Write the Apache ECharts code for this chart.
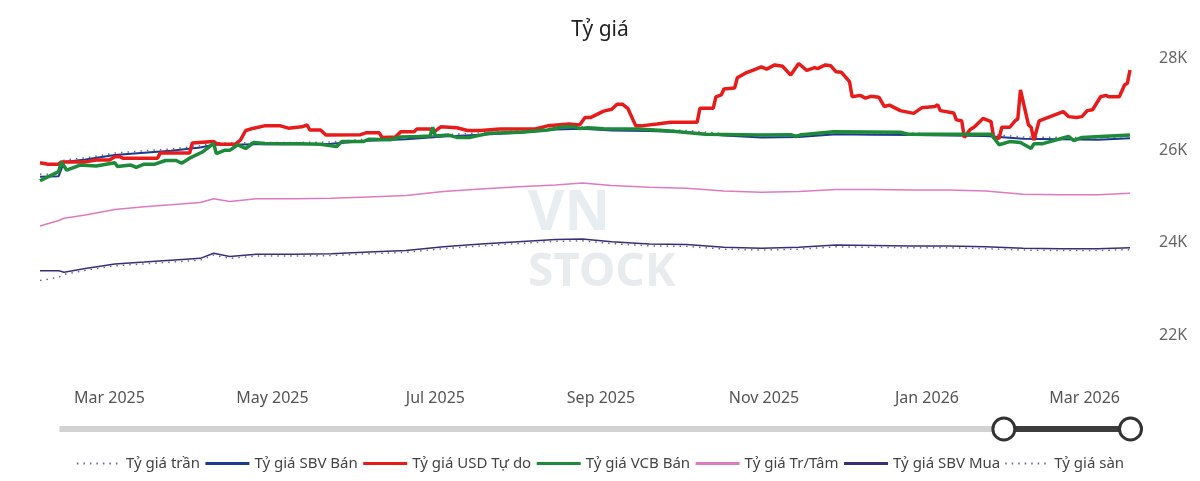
<!DOCTYPE html>
<html>
<head>
<meta charset="utf-8">
<title>Tỷ giá</title>
<script src="https://cdn.jsdelivr.net/npm/echarts@6.0.0/dist/echarts.min.js"></script>
<style>
html, body { margin: 0; padding: 0; background: #fff; }
#main { width: 1200px; height: 481px; }
</style>
</head>
<body>
<div id="main"></div>
<script>
"use strict";
// common dates for SBV / central / ceiling / floor rates
var dates = ['2025-02-03','2025-02-10','2025-02-12','2025-02-20','2025-03-03','2025-03-14','2025-03-24',
	'2025-04-04','2025-04-09','2025-04-15','2025-04-25','2025-05-09','2025-05-23','2025-06-06','2025-06-20',
	'2025-07-04','2025-07-18','2025-08-01','2025-08-15','2025-08-25','2025-09-05','2025-09-19','2025-10-03',
	'2025-10-17','2025-10-31','2025-11-14','2025-11-28','2025-12-12','2025-12-26','2026-01-09','2026-01-23',
	'2026-02-06','2026-02-20','2026-03-06','2026-03-18'];
var ceilingRate = [25480,25490,25790,25840,25940,25990,26030,26100,26160,26160,26170,26170,26180,26250,26280,
	26340,26380,26420,26490,26510,26470,26460,26430,26360,26320,26330,26390,26380,26370,26360,26350,
	26290,26280,26270,26300];
var sbvSell = [25430,25440,25750,25800,25900,25950,25990,26060,26120,26120,26130,26130,26140,26210,26240,
	26300,26340,26380,26450,26470,26430,26420,26390,26320,26280,26290,26350,26340,26330,26320,26310,
	26250,26240,26230,26260];
var centralRate = [24360,24480,24530,24600,24720,24780,24820,24870,24950,24890,24950,24950,24960,24990,25020,
	25110,25160,25210,25250,25290,25240,25200,25180,25120,25090,25110,25150,25150,25140,25140,25120,
	25050,25040,25040,25070];
var sbvBuy = [23390,23390,23360,23440,23540,23580,23620,23660,23770,23700,23750,23750,23760,23800,23830,
	23910,23970,24020,24070,24080,24020,23970,23960,23900,23880,23900,23950,23940,23930,23930,23910,
	23880,23870,23870,23890];
var floorRate = [23180,23250,23310,23400,23500,23540,23580,23620,23730,23660,23710,23710,23720,23760,23790,
	23870,23930,23980,24030,24040,23980,23930,23920,23860,23840,23860,23910,23900,23890,23890,23870,
	23840,23830,23830,23850];

// VCB selling rate
var vcbDates = ['2025-02-03','2025-02-10','2025-02-11','2025-02-13','2025-02-18','2025-02-24','2025-03-03','2025-03-04',
	'2025-03-09','2025-03-11','2025-03-14','2025-03-18','2025-03-22','2025-03-26','2025-03-28','2025-03-31',
	'2025-04-05','2025-04-09','2025-04-10','2025-04-13','2025-04-15','2025-04-18','2025-04-21','2025-04-24','2025-04-28',
	'2025-05-11','2025-05-19','2025-05-25','2025-05-27','2025-06-04','2025-06-06','2025-06-14','2025-06-18','2025-06-25',
	'2025-06-29','2025-06-30','2025-07-01','2025-07-06','2025-07-09','2025-07-14','2025-07-18','2025-07-21',
	'2025-08-02','2025-08-12','2025-08-18','2025-08-22','2025-08-24','2025-08-27','2025-09-02','2025-09-15','2025-09-27',
	'2025-10-10','2025-10-31','2025-11-11','2025-11-13','2025-11-15','2025-11-27','2025-12-22','2025-12-25',
	'2026-01-25','2026-01-28','2026-02-01','2026-02-05','2026-02-09','2026-02-10','2026-02-13','2026-02-23',
	'2026-02-25','2026-02-28','2026-03-07','2026-03-18'];
var vcbSell = [25340,25540,25750,25570,25680,25660,25730,25650,
	25680,25630,25700,25700,25780,25780,25720,25830,
	25970,26150,25930,26000,26000,26120,26040,26170,26150,
	26140,26130,26080,26190,26190,26240,26230,26290,26300,
	26310,26500,26310,26330,26280,26280,26330,26370,
	26390,26440,26510,26510,26470,26490,26470,26460,26420,
	26350,26330,26340,26300,26340,26400,26390,26350,
	26350,26120,26190,26170,26040,26140,26140,26300,
	26210,26280,26300,26330];

// free market USD
var freeDates = ['2025-02-03','2025-02-06','2025-02-10','2025-02-11','2025-02-16','2025-02-20','2025-02-24',
	'2025-03-01','2025-03-03','2025-03-05','2025-03-06','2025-03-19','2025-03-20','2025-03-31',
	'2025-04-01','2025-04-09','2025-04-10','2025-04-12','2025-04-17','2025-04-19','2025-04-21','2025-04-24','2025-04-28',
	'2025-05-04','2025-05-07','2025-05-12','2025-05-14','2025-05-15','2025-05-19','2025-05-21',
	'2025-06-03','2025-06-05','2025-06-10','2025-06-11','2025-06-16','2025-06-18','2025-06-23','2025-06-24','2025-06-29','2025-06-30',
	'2025-07-03','2025-07-09','2025-07-13','2025-07-18','2025-07-25',
	'2025-08-07','2025-08-12','2025-08-20','2025-08-24','2025-08-26','2025-08-28',
	'2025-09-02','2025-09-05','2025-09-07','2025-09-09','2025-09-11','2025-09-14','2025-09-16','2025-09-22','2025-09-27',
	'2025-10-07','2025-10-08','2025-10-13','2025-10-14','2025-10-16','2025-10-17','2025-10-21','2025-10-22','2025-10-25','2025-10-28','2025-10-31',
	'2025-11-02','2025-11-05','2025-11-08','2025-11-11','2025-11-14','2025-11-17','2025-11-20','2025-11-21','2025-11-24','2025-11-26','2025-11-28','2025-11-30',
	'2025-12-03','2025-12-04','2025-12-07','2025-12-09','2025-12-11','2025-12-14','2025-12-16','2025-12-18','2025-12-22','2025-12-27','2025-12-30',
	'2026-01-04','2026-01-05','2026-01-06','2026-01-11','2026-01-12','2026-01-14','2026-01-15','2026-01-17','2026-01-19','2026-01-22','2026-01-25','2026-01-26','2026-01-28','2026-01-29',
	'2026-02-01','2026-02-03','2026-02-04','2026-02-05','2026-02-08','2026-02-09','2026-02-10','2026-02-12','2026-02-21','2026-02-23','2026-02-26','2026-02-28',
	'2026-03-02','2026-03-04','2026-03-07','2026-03-09','2026-03-10','2026-03-14','2026-03-16','2026-03-17','2026-03-18'];
var freeRate = [25730,25700,25700,25750,25750,25750,25790,
	25790,25860,25860,25830,25830,25940,25940,
	26160,26190,26150,26130,26130,26220,26430,26480,26530,
	26530,26480,26510,26550,26440,26440,26330,
	26340,26380,26380,26280,26290,26400,26400,26460,26460,26380,
	26510,26490,26430,26430,26460,
	26460,26530,26570,26550,26710,26710,
	26850,26890,27000,27000,26910,26530,26530,26570,26610,
	26610,26910,26910,27160,27200,27330,27350,27570,27670,27740,27810,
	27760,27850,27820,27630,27880,27730,27790,27770,27850,27830,27700,27690,
	27490,27160,27190,27130,27170,27150,26950,26980,26860,26800,26920,
	26950,26990,26860,26810,26660,26640,26280,26440,26520,26690,26620,26260,26260,26500,
	26500,26640,26680,27310,26550,26500,26220,26640,26840,26730,26710,26730,
	26860,26880,27160,27190,27160,27160,27420,27450,27740];

var names = ['Tỷ giá trần', 'Tỷ giá SBV Bán', 'Tỷ giá USD Tự do', 'Tỷ giá VCB Bán', 'Tỷ giá Tr/Tâm', 'Tỷ giá SBV Mua', 'Tỷ giá sàn'];
var months = ['Jan','Feb','Mar','Apr','May','Jun','Jul','Aug','Sep','Oct','Nov','Dec'];
var FONT = '"Segoe UI", "Noto Sans", sans-serif';

function pairs(ds, vs){ return ds.map(function(d, i){ return [d, vs[i]]; }); }
function mkLine(name, data, color, width, type){
	return { name: name, type: 'line', data: data, symbol: 'none', showSymbol: false,
		lineStyle: { color: color, width: width, type: type || 'solid' }, itemStyle: { color: color } };
}
// legend keeps thicker solid strokes, thin dots for the band limits
var legendData = names.map(function(n, i){
	var dotted = (i == 0 || i == 6);
	return { name: n, lineStyle: { width: dotted ? 2 : 3 } };
});

var myChart = echarts.init(document.getElementById('main'));
var option = {
	animation: false,
	textStyle: { fontFamily: FONT },
	title: { text: 'Tỷ giá', left: 'center', top: 15,
		textStyle: { fontSize: 21, fontWeight: 'normal', color: '#222', fontFamily: FONT } },
	legend: { data: legendData, left: 'center', top: 451, itemWidth: 44, itemHeight: 14, itemGap: 4,
		itemStyle: { opacity: 0 },
		textStyle: { fontSize: 15, color: '#444', fontFamily: FONT } },
	grid: [{ left: 40, right: 70, top: 58, bottom: 146 },
		{ left: 57, right: 71, top: 426, height: 6, show: false }],
	xAxis: [{ type: 'time', min: '2025-02-03', max: '2026-03-18',
			axisLine: { show: false }, axisTick: { show: false }, splitLine: { show: false },
			axisLabel: { margin: 55, fontSize: 16, color: '#555', fontFamily: FONT,
				formatter: function(v){ var d = new Date(v); return months[d.getMonth()] + ' ' + d.getFullYear(); } } },
		{ type: 'value', gridIndex: 1, min: 0, max: 100, show: false }],
	yAxis: [{ type: 'value', position: 'right', min: 22000, max: 28000, interval: 2000,
			axisLine: { show: false }, axisTick: { show: false }, splitLine: { show: false },
			axisLabel: { margin: 29, fontSize: 16, color: '#666', fontFamily: FONT,
				formatter: function(v){ return (v / 1000) + 'K'; } } },
		{ type: 'value', gridIndex: 1, show: false }],
	dataZoom: [{ type: 'slider', xAxisIndex: 1, start: 88, end: 100,
		left: 57, right: 71, top: 426, height: 6,
		backgroundColor: '#d2d2d2', fillerColor: '#3d3d3d', borderColor: 'transparent', borderRadius: 3,
		showDetail: false, showDataShadow: false, brushSelect: false, moveHandleSize: 0,
		handleIcon: 'circle', handleSize: 22,
		handleStyle: { color: '#fff', borderColor: '#333', borderWidth: 3 } }],
	graphic: [
		{ type: 'text', left: 528, top: 186, silent: true, z: 0,
			style: { text: 'VN', fontSize: 56, fontWeight: 'bold', fill: '#e8edf1', fontFamily: FONT } },
		{ type: 'text', left: 528, top: 250, silent: true, z: 0,
			style: { text: 'STOCK', fontSize: 46, fontWeight: 'bold', fill: '#e9ecee', fontFamily: FONT } }
	],
	series: [
		mkLine(names[0], pairs(dates, ceilingRate), '#6a6a90', 1.5, [1.5, 5]),
		mkLine(names[1], pairs(dates, sbvSell), '#1c3a8e', 2),
		mkLine(names[2], pairs(freeDates, freeRate), '#e81b1b', 3.5),
		mkLine(names[3], pairs(vcbDates, vcbSell), '#1d8a3a', 3.5),
		mkLine(names[4], pairs(dates, centralRate), '#e07ac0', 1.5),
		mkLine(names[5], pairs(dates, sbvBuy), '#3b2e78', 1.5),
		mkLine(names[6], pairs(dates, floorRate), '#6a6a90', 1.5, [1.5, 5])
	]
};
myChart.setOption(option);
</script>
</body>
</html>
